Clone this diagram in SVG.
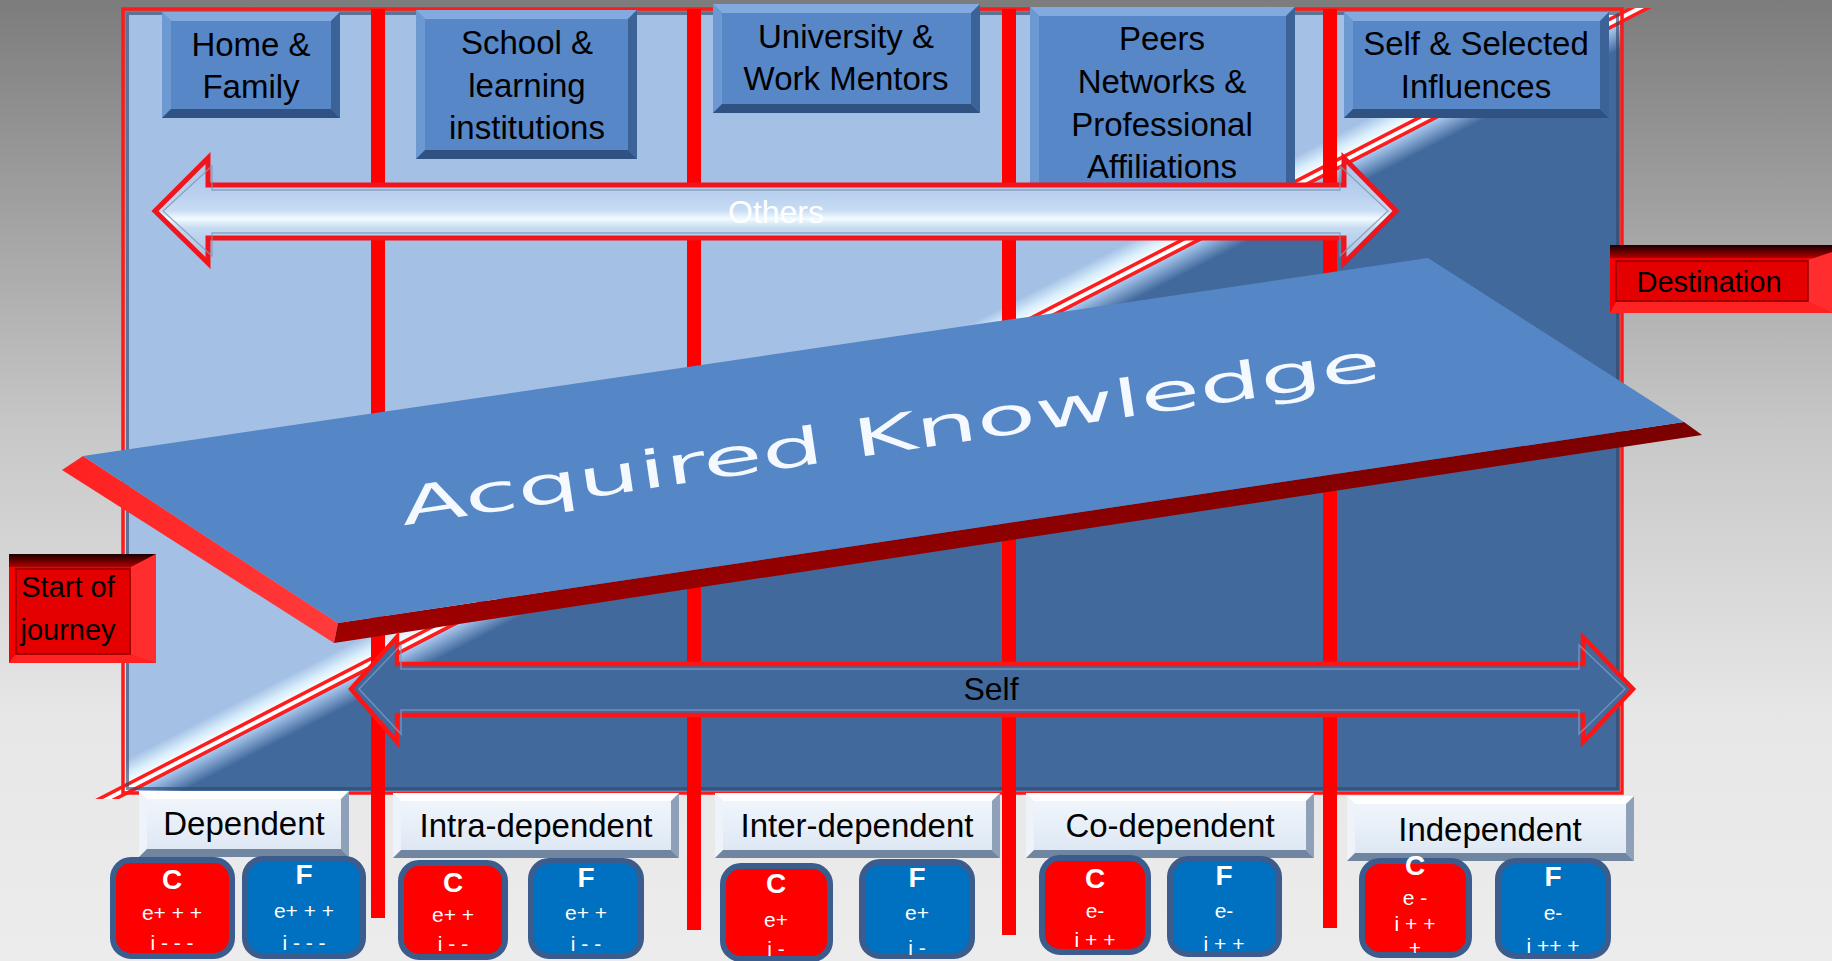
<svg xmlns="http://www.w3.org/2000/svg" width="1832" height="961" viewBox="0 0 1832 961">
<defs>
<style>
.bc{fill:#5787c7}.bt{fill:#82aadf}.bl{fill:#6d99d2}.br{fill:#3b6397}.bb{fill:#2f5283}
.lc{fill:url(#lightFill)}.lt{fill:#ffffff}.ll{fill:#eef3f9}.lr{fill:#8fa1b9}.lbm{fill:#70859f}
.vl{fill:#ff0000}
.tx{font-family:"Liberation Sans",Arial,sans-serif;fill:#000;text-anchor:middle}
.tt{font-size:33px}
.cf{stroke:#3b5c8c;stroke-width:6}
.cr{fill:#ff0000}.cb{fill:#0070c0}
.ch{font-family:"Liberation Sans",Arial,sans-serif;font-weight:bold;font-size:28px;fill:#fff;text-anchor:middle}
.cv{font-family:"Liberation Sans",Arial,sans-serif;font-size:21px;fill:#fff;text-anchor:middle}
</style>
<linearGradient id="bg" x1="0" y1="0" x2="0" y2="1">
<stop offset="0" stop-color="#7c7c7c"/>
<stop offset="0.45" stop-color="#c8c8c8"/>
<stop offset="0.75" stop-color="#e7e7e7"/>
<stop offset="1" stop-color="#ececec"/>
</linearGradient>
<linearGradient id="lightFill" x1="0" y1="0" x2="0" y2="1">
<stop offset="0" stop-color="#f3f7fc"/>
<stop offset="1" stop-color="#dbe6f3"/>
</linearGradient>
<clipPath id="frameClip"><rect x="126" y="12" width="1494" height="779"/></clipPath>
<clipPath id="stripeClip"><rect x="80" y="8" width="1600" height="791"/></clipPath>
<linearGradient id="hl" x1="0" y1="-26" x2="0" y2="-5" gradientUnits="userSpaceOnUse">
<stop offset="0" stop-color="#a4c0e5"/>
<stop offset="0.6" stop-color="#d6ecfb"/>
<stop offset="1" stop-color="#f4fcff"/>
</linearGradient>
<linearGradient id="lowBand" x1="0" y1="6" x2="0" y2="28" gradientUnits="userSpaceOnUse">
<stop offset="0" stop-color="#a9c8ee"/>
<stop offset="1" stop-color="#41699c"/>
</linearGradient>
<linearGradient id="othersFill" x1="0" y1="158" x2="0" y2="263" gradientUnits="userSpaceOnUse">
<stop offset="0" stop-color="#a9c3e6"/>
<stop offset="0.35" stop-color="#b9d0ee"/>
<stop offset="0.5" stop-color="#c8ddf4"/>
<stop offset="0.58" stop-color="#f2fbff"/>
<stop offset="0.67" stop-color="#c5daf1"/>
<stop offset="1" stop-color="#a2bee2"/>
</linearGradient>
<linearGradient id="frontRed" x1="0" y1="0" x2="0" y2="1">
<stop offset="0" stop-color="#7a0000"/>
<stop offset="1" stop-color="#a00000"/>
</linearGradient>
<linearGradient id="leftRed" x1="0" y1="0" x2="1" y2="0">
<stop offset="0" stop-color="#ff2020"/>
<stop offset="1" stop-color="#ff3b3b"/>
</linearGradient>
<linearGradient id="darkTop" x1="0" y1="0" x2="0" y2="1">
<stop offset="0" stop-color="#1a0000"/>
<stop offset="1" stop-color="#b00000"/>
</linearGradient>
</defs>

<rect width="1832" height="961" fill="url(#bg)"/>

<g id="frame">
<g clip-path="url(#frameClip)">
<rect x="126" y="12" width="1494" height="779" fill="#a4c0e5"/>
<g transform="translate(108,798) rotate(-27.3)">
<rect x="-300" y="0" width="2400" height="1200" fill="#41699c"/>
<rect x="-300" y="-26" width="2400" height="22" fill="url(#hl)"/>
<rect x="-300" y="6" width="2400" height="22" fill="url(#lowBand)"/>
</g>
</g>
<g clip-path="url(#stripeClip)">
<g transform="translate(108,798) rotate(-27.3)">
<rect x="-100" y="-5" width="1950" height="11" fill="#ff1c1c"/>
<rect x="-100" y="-1.5" width="1950" height="4" fill="#ffffff"/>
</g>
</g>
<rect x="127.5" y="13.5" width="1490" height="775" fill="none" stroke="#34496a" stroke-width="3" opacity="0.65"/>
<rect x="123" y="9" width="1499" height="784" fill="none" stroke="#ff1a1a" stroke-width="3.5"/>
</g>

<g id="connectors">
<rect class="vl" x="371" y="9" width="14" height="909"/>
<rect class="vl" x="687" y="9" width="14" height="921"/>
<rect class="vl" x="1002" y="9" width="14" height="926"/>
<rect class="vl" x="1323" y="9" width="14" height="919"/>
</g>

<g id="home-family">
<rect class="bc" x="162" y="12" width="178" height="106"/>
<polygon class="bt" points="162,12 340,12 331,21 171,21"/>
<polygon class="bl" points="162,12 171,21 171,109 162,118"/>
<polygon class="br" points="340,12 340,118 331,109 331,21"/>
<polygon class="bb" points="162,118 171,109 331,109 340,118"/>
<text class="tx tt" x="251" y="56">Home &amp;</text>
<text class="tx tt" x="251" y="98">Family</text>
</g>

<g id="school">
<rect class="bc" x="416" y="10" width="221" height="149"/>
<polygon class="bt" points="416,10 637,10 628,19 425,19"/>
<polygon class="bl" points="416,10 425,19 425,150 416,159"/>
<polygon class="br" points="637,10 637,159 628,150 628,19"/>
<polygon class="bb" points="416,159 425,150 628,150 637,159"/>
<text class="tx tt" x="527" y="54">School &amp;</text>
<text class="tx tt" x="527" y="97">learning</text>
<text class="tx tt" x="527" y="139">institutions</text>
</g>

<g id="university">
<rect class="bc" x="713" y="4" width="267" height="109"/>
<polygon class="bt" points="713,4 980,4 971,13 722,13"/>
<polygon class="bl" points="713,4 722,13 722,104 713,113"/>
<polygon class="br" points="980,4 980,113 971,104 971,13"/>
<polygon class="bb" points="713,113 722,104 971,104 980,113"/>
<text class="tx tt" x="846" y="48">University &amp;</text>
<text class="tx tt" x="846" y="90">Work Mentors</text>
</g>

<g id="peers">
<rect class="bc" x="1030" y="7" width="265" height="186"/>
<polygon class="bt" points="1030,7 1295,7 1286,16 1039,16"/>
<polygon class="bl" points="1030,7 1039,16 1039,184 1030,193"/>
<polygon class="br" points="1295,7 1295,193 1286,184 1286,16"/>
<polygon class="bb" points="1030,193 1039,184 1286,184 1295,193"/>
<text class="tx tt" x="1162" y="50">Peers</text>
<text class="tx tt" x="1162" y="93">Networks &amp;</text>
<text class="tx tt" x="1162" y="136">Professional</text>
<text class="tx tt" x="1162" y="178">Affiliations</text>
</g>

<g id="self-selected">
<rect class="bc" x="1344" y="12" width="265" height="106"/>
<polygon class="bt" points="1344,12 1609,12 1600,21 1353,21"/>
<polygon class="bl" points="1344,12 1353,21 1353,109 1344,118"/>
<polygon class="br" points="1609,12 1609,118 1600,109 1600,21"/>
<polygon class="bb" points="1344,118 1353,109 1600,109 1609,118"/>
<text class="tx tt" x="1476" y="55">Self &amp; Selected</text>
<text class="tx tt" x="1476" y="98">Influences</text>
</g>

<g id="others-arrow">
<polygon points="155,211 208,158 208,185 1344,185 1344,158 1396,211 1344,263 1344,238 208,238 208,263" fill="url(#othersFill)" stroke="#f0141c" stroke-width="5" stroke-linejoin="miter"/>
<polygon points="163,211 212,166 212,190 1340,190 1340,166 1388,211 1340,256 1340,233 212,233 212,256" fill="none" stroke="#7f96b4" stroke-width="1.3" opacity="0.8"/>
<text class="tx" x="776" y="223" font-size="32" style="fill:#ffffff">Others</text>
</g>

<g id="acquired-knowledge">
<polygon points="83,456 338,623 334,643 62,470" fill="url(#leftRed)"/>
<polygon points="338,623 1684,422 1702,435 334,643" fill="url(#frontRed)"/>
<polygon points="83,456 1428,258 1684,422 338,623" fill="#5586c6"/>
<text transform="translate(893,452) rotate(-8.5)" x="0" y="0" font-family="'DejaVu Sans',Verdana,sans-serif" font-size="52" fill="#f4f8ff" text-anchor="middle" textLength="990" lengthAdjust="spacingAndGlyphs">Acquired Knowledge</text>
</g>

<g id="self-arrow">
<polygon points="351,689 397,637 397,664 1583,664 1583,637 1633,689 1583,742 1583,715 397,715 397,742" fill="#41699c" stroke="#ff1414" stroke-width="4.5"/>
<polygon points="359,689 401,645 401,669 1579,669 1579,645 1625,689 1579,734 1579,710 401,710 401,734" fill="none" stroke="#7a9ac4" stroke-width="1.5" opacity="0.8"/>
<text class="tx" x="991" y="700" font-size="32">Self</text>
</g>

<g id="start-of-journey">
<rect x="9" y="554" width="147" height="109" fill="#f50000"/>
<polygon points="9,554 156,554 131,567 9,567" fill="url(#darkTop)"/>
<polygon points="156,554 156,663 131,655 131,567" fill="#ff2d2d"/>
<polygon points="9,663 156,663 131,655 15,655" fill="#ff2222"/>
<rect x="16" y="569" width="114" height="85" fill="#e40000" stroke="#8f0000" stroke-width="1.5"/>
<text class="tx" x="68" y="597" font-size="29">Start of</text>
<text class="tx" x="68" y="640" font-size="29">journey</text>
</g>

<g id="destination">
<rect x="1610" y="245" width="222" height="68" fill="#f50000"/>
<polygon points="1610,245 1832,245 1832,258 1610,258" fill="url(#darkTop)"/>
<polygon points="1808,260 1832,252 1832,313 1808,302" fill="#ff2d2d"/>
<polygon points="1610,313 1832,313 1808,302 1616,302" fill="#ff2222"/>
<rect x="1616" y="261" width="192" height="40" fill="#e40000" stroke="#8f0000" stroke-width="1.5"/>
<text class="tx" x="1709" y="292" font-size="29">Destination</text>
</g>

<g id="dependent">
<rect class="lc" x="139" y="791" width="210" height="66"/>
<polygon class="lt" points="139,791 349,791 341,799 147,799"/>
<polygon class="ll" points="139,791 147,799 147,849 139,857"/>
<polygon class="lr" points="349,791 349,857 341,849 341,799"/>
<polygon class="lbm" points="139,857 147,849 341,849 349,857"/>
<text class="tx tt" x="244" y="835">Dependent</text>
</g>

<g id="intra-dependent">
<rect class="lc" x="393" y="793" width="286" height="65"/>
<polygon class="lt" points="393,793 679,793 671,801 401,801"/>
<polygon class="ll" points="393,793 401,801 401,850 393,858"/>
<polygon class="lr" points="679,793 679,858 671,850 671,801"/>
<polygon class="lbm" points="393,858 401,850 671,850 679,858"/>
<text class="tx tt" x="536" y="837">Intra-dependent</text>
</g>

<g id="inter-dependent">
<rect class="lc" x="715" y="793" width="285" height="65"/>
<polygon class="lt" points="715,793 1000,793 992,801 723,801"/>
<polygon class="ll" points="715,793 723,801 723,850 715,858"/>
<polygon class="lr" points="1000,793 1000,858 992,850 992,801"/>
<polygon class="lbm" points="715,858 723,850 992,850 1000,858"/>
<text class="tx tt" x="857" y="837">Inter-dependent</text>
</g>

<g id="co-dependent">
<rect class="lc" x="1026" y="793" width="288" height="65"/>
<polygon class="lt" points="1026,793 1314,793 1306,801 1034,801"/>
<polygon class="ll" points="1026,793 1034,801 1034,850 1026,858"/>
<polygon class="lr" points="1314,793 1314,858 1306,850 1306,801"/>
<polygon class="lbm" points="1026,858 1034,850 1306,850 1314,858"/>
<text class="tx tt" x="1170" y="837">Co-dependent</text>
</g>

<g id="independent">
<rect class="lc" x="1347" y="796" width="287" height="65"/>
<polygon class="lt" points="1347,796 1634,796 1626,804 1355,804"/>
<polygon class="ll" points="1347,796 1355,804 1355,853 1347,861"/>
<polygon class="lr" points="1634,796 1634,861 1626,853 1626,804"/>
<polygon class="lbm" points="1347,861 1355,853 1626,853 1634,861"/>
<text class="tx tt" x="1490" y="841">Independent</text>
</g>

<g id="c1"><rect class="cf cr" x="113" y="860" width="119" height="96" rx="18"/>
<text class="ch" x="172" y="889">C</text><text class="cv" x="172" y="920">e+ + +</text><text class="cv" x="172" y="950">i - - -</text></g>
<g id="f1"><rect class="cf cb" x="245" y="859" width="118" height="97" rx="18"/>
<text class="ch" x="304" y="884">F</text><text class="cv" x="304" y="918">e+ + +</text><text class="cv" x="304" y="950">i - - -</text></g>
<g id="c2"><rect class="cf cr" x="401" y="863" width="104" height="94" rx="18"/>
<text class="ch" x="453" y="892">C</text><text class="cv" x="453" y="922">e+ +</text><text class="cv" x="453" y="951">i - -</text></g>
<g id="f2"><rect class="cf cb" x="531" y="861" width="110" height="95" rx="18"/>
<text class="ch" x="586" y="887">F</text><text class="cv" x="586" y="920">e+ +</text><text class="cv" x="586" y="951">i - -</text></g>
<g id="c3"><rect class="cf cr" x="723" y="866" width="107" height="93" rx="18"/>
<text class="ch" x="776" y="893">C</text><text class="cv" x="776" y="927">e+</text><text class="cv" x="776" y="956">i -</text></g>
<g id="f3"><rect class="cf cb" x="862" y="862" width="110" height="94" rx="18"/>
<text class="ch" x="917" y="887">F</text><text class="cv" x="917" y="920">e+</text><text class="cv" x="917" y="955">i -</text></g>
<g id="c4"><rect class="cf cr" x="1042" y="858" width="106" height="94" rx="18"/>
<text class="ch" x="1095" y="888">C</text><text class="cv" x="1095" y="918">e-</text><text class="cv" x="1095" y="947">i + +</text></g>
<g id="f4"><rect class="cf cb" x="1170" y="859" width="109" height="95" rx="18"/>
<text class="ch" x="1224" y="885">F</text><text class="cv" x="1224" y="918">e-</text><text class="cv" x="1224" y="951">i + +</text></g>
<g id="c5"><rect class="cf cr" x="1362" y="861" width="107" height="94" rx="18"/>
<text class="ch" x="1415" y="875">C</text><text class="cv" x="1415" y="905">e -</text><text class="cv" x="1415" y="931">i + +</text><text class="cv" x="1415" y="955">+</text></g>
<g id="f5"><rect class="cf cb" x="1498" y="861" width="110" height="95" rx="18"/>
<text class="ch" x="1553" y="886">F</text><text class="cv" x="1553" y="920">e-</text><text class="cv" x="1553" y="953">i ++ +</text></g>
</svg>
